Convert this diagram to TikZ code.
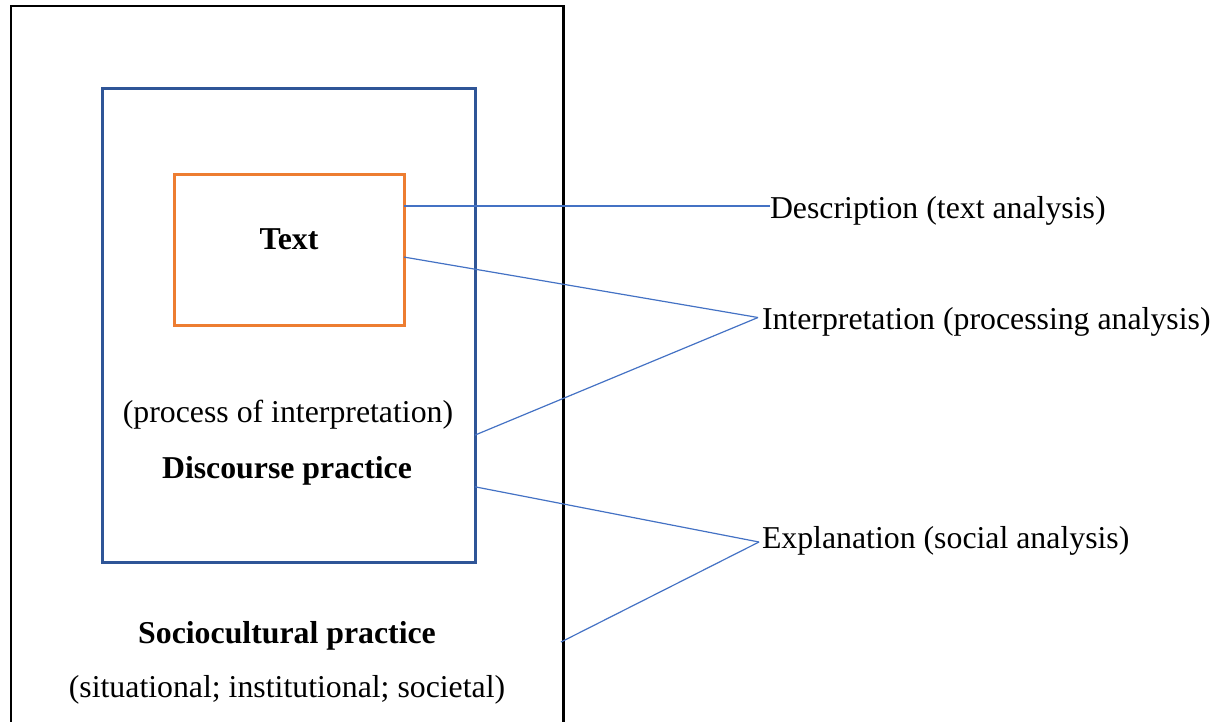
\documentclass[tikz,border=0pt]{standalone}
\usepackage{fontspec}
\setmainfont{Liberation Serif}
\usetikzlibrary{calc}
\definecolor{connblue}{HTML}{4472C4}
\definecolor{boxblue}{HTML}{2F5597}
\definecolor{boxorange}{HTML}{ED7D31}
\begin{document}
\begin{tikzpicture}[x=1pt,y=-1pt,
  lbl/.style={font=\fontsize{31.8}{38}\selectfont, inner sep=0pt, outer sep=0pt},
  blbl/.style={lbl, font=\fontsize{31.8}{38}\selectfont\bfseries},
  conn/.style={draw=connblue, line width=1.2pt},
  frame/.style={draw, anchor=north west, inner sep=0pt, outer sep=0pt}
]
\useasboundingbox (0,0) rectangle (1224,721);
% boxes
\node[frame, line width=2.2pt, minimum width=552.5pt, minimum height=760pt] (outer) at (11,6) {};
\node[frame, draw=boxblue, line width=3pt, minimum width=372.7pt, minimum height=474.4pt] (disc) at (102.3,88.3) {};
\node[frame, draw=boxorange, line width=3pt, minimum width=230pt, minimum height=151pt] (txt) at (174,174) {};
% texts inside
\node[blbl, anchor=base] (tText) at (289,249) {Text};
\node[lbl, anchor=base] (tProc) at (288,422) {(process of interpretation)};
\node[blbl, anchor=base] (tDisc) at (287,478) {Discourse practice};
\node[blbl, anchor=base] (tSoc) at (287,643) {Sociocultural practice};
\node[lbl, anchor=base] (tSit) at (287,697) {(situational; institutional; societal)};
% labels on the right
\node[lbl, anchor=base west] (lD) at (770,218) {Description (text analysis)};
\node[lbl, anchor=base west] (lI) at (762,329) {Interpretation (processing analysis)};
\node[lbl, anchor=base west] (lE) at (762,548) {Explanation (social analysis)};
% connector points
\coordinate (dD) at (770,206);
\coordinate (dI) at (758,317.5);
\coordinate (dE) at (759,542);
\coordinate (sEnd) at (561,642);
% connectors
\draw[conn] (txt.east |- dD) -- (dD);
\draw[conn] ($(txt.north east)!0.55!(txt.south east)$) -- (dI);
\draw[conn] ($(disc.north east)!0.731!(disc.south east)$) -- (dI);
\draw[conn] ($(disc.north east)!0.840!(disc.south east)$) -- (dE);
\draw[conn] (sEnd) -- (dE);
\end{tikzpicture}
\end{document}
